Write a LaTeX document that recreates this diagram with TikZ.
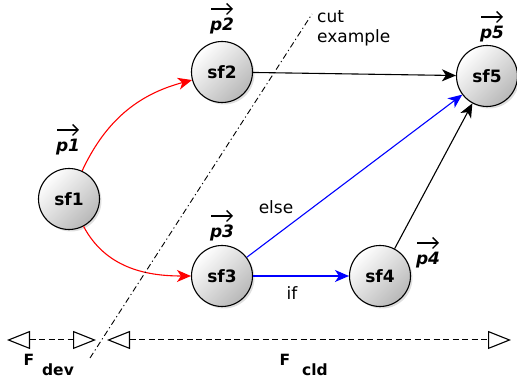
\documentclass[tikz,border=0pt]{standalone}
\usepackage{fontspec}
\setmainfont{DejaVu Sans}
\usetikzlibrary{arrows.meta,shadows,calc}
\begin{document}
\begin{tikzpicture}[x=1pt,y=1pt,
  sfnode/.style={circle, draw=black, line width=1.1pt, minimum size=61pt, inner sep=0pt,
    font=\fontsize{17}{20}\selectfont\bfseries,
    top color=white, bottom color=black!28, shading angle=45,
    drop shadow={opacity=0.25, shadow xshift=2pt, shadow yshift=-2pt}},
  plabel/.style={font=\fontsize{17}{20}\selectfont\bfseries\itshape, inner sep=0pt},
  vecarrow/.style={line width=1.4pt, -{Straight Barb[length=5.5pt,width=11pt]}},
  txt/.style={font=\fontsize{17}{20}\selectfont, inner sep=0pt},
  flabel/.style={font=\fontsize{15.5}{18}\selectfont\bfseries, inner sep=0pt, anchor=base},
  edge/.style={line width=1.1pt, -{Stealth[length=14pt,width=12pt,inset=4pt]}},
  cutline/.style={line width=0.9pt, dash pattern=on 6pt off 3pt on 1.2pt off 3pt},
  span/.style={line width=1pt, dash pattern=on 6pt off 3.5pt,
    {Triangle[open,length=23pt,width=18pt,line width=1.1pt]}-{Triangle[open,length=23pt,width=18pt,line width=1.1pt]}}
]
\useasboundingbox (0,0) rectangle (517,379);

% nodes
\node[sfnode] (sf1) at (69,180) {sf1};
\node[sfnode] (sf2) at (222,307) {sf2};
\node[sfnode] (sf3) at (222,103) {sf3};
\node[sfnode] (sf4) at (380,103) {sf4};
\node[sfnode] (sf5) at (487,303) {sf5};

% vector labels
\node[plabel] (p1) at (68,232) {p1};
\node[plabel] (p2) at (222,353) {p2};
\node[plabel] (p3) at (222,146) {p3};
\node[plabel] (p4) at (428,119) {p4};
\node[plabel] (p5) at (492,345) {p5};
\foreach \p in {p1,p2,p3,p4,p5}
  \draw[vecarrow] ($(\p)+(-11,17)$) -- ($(\p)+(11,17)$);

% edges
\draw[edge, red] (sf1) to[out=65, in=195] (sf2);
\draw[edge, red] (sf1) to[out=-62, in=180] (sf3);
\draw[edge] (sf2) -- (sf5);
\draw[edge, blue] (sf3) -- (sf5);
\draw[edge, blue] (sf3) -- (sf4);
\draw[edge] (sf4) -- (sf5);

\node[txt] (else) at (276,172) {else};
\node[txt] (if) at (292,86) {if};

% cut line
\coordinate (c1) at (90,21);
\coordinate (c2) at (312,365);
\draw[cutline] (c1) -- (c2);
\node[txt, anchor=base west, align=left, font=\fontsize{17}{20}\selectfont] (cut) at (317,336) {cut\\example};

% spans
\coordinate (d1) at (7,39);
\coordinate (d2) at (96,39);
\coordinate (e1) at (107,39);
\coordinate (e2) at (511,39);
\draw[span] (d1) -- (d2);
\draw[span] (e1) -- (e2);

\node[flabel] (F1) at (29,13) {F};
\node[flabel] (dev) at (58,3) {dev};
\node[flabel] (F2) at (285,13) {F};
\node[flabel] (cld) at (315,3) {cld};
\end{tikzpicture}
\end{document}
